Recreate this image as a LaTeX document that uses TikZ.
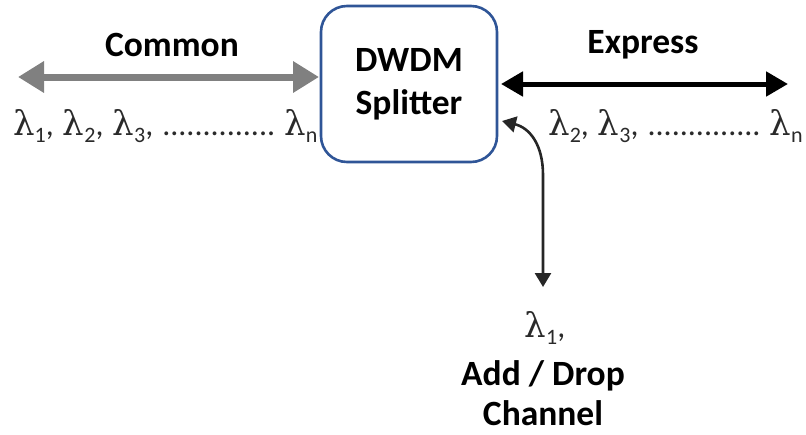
\documentclass[tikz,border=0pt]{standalone}
\usepackage{fontspec}
\setmainfont{Carlito}
\newfontfamily\lamfont{DejaVu Serif}
\usetikzlibrary{arrows.meta}
\definecolor{boxblue}{HTML}{2F5597}
\definecolor{arrgrey}{HTML}{808080}
\definecolor{lamgrey}{HTML}{2A2A2A}
\newcommand{\lm}[1]{{\lamfont\fontsize{34}{36}\selectfont λ}\raisebox{-0.22em}{\fontsize{22}{22}\selectfont #1}}
\newcommand{\dotrow}{{\fontsize{32}{34}\selectfont..............}}
\newcommand{\gp}{\hspace{9pt}}
\tikzset{
  lbl/.style={font=\fontsize{35.5}{40}\selectfont\bfseries, inner sep=0pt},
  lam/.style={font=\fontsize{32}{36}\selectfont, text=lamgrey, inner sep=0pt},
  splitter/.style={draw=boxblue, line width=2.6pt, rounded corners=26pt, minimum width=176pt, minimum height=156pt, align=center, font=\fontsize{35.5}{43}\selectfont\bfseries},
  greyarrow/.style={draw=arrgrey, line width=7pt, {Triangle[length=26pt,width=30pt]}-{Triangle[length=26pt,width=30pt]}},
  blackarrow/.style={draw=black, line width=5pt, {Triangle[length=22pt,width=24pt]}-{Triangle[length=22pt,width=24pt]}},
  thinarrow/.style={draw=black!85, line width=2.6pt, {Triangle[length=14pt,width=16pt]}-{Triangle[length=14pt,width=16pt]}}
}
\begin{document}
\begin{tikzpicture}[x=1pt,y=-1pt]
\useasboundingbox (0,0) rectangle (806,434);
\node[splitter] (box) at (409,84) {DWDM\\Splitter};
\coordinate (cl) at (18,77);
\coordinate (cr) at (319,77);
\draw[greyarrow] (cl) -- (cr);
\node[lbl] (common) at (172,45) {Common};
\node[lam, anchor=west] (lamL) at (13,126) {\lm{1},\gp\lm{2},\gp\lm{3},\gp\dotrow\gp\lm{n}};
\coordinate (el) at (501,84);
\coordinate (er) at (788,84);
\draw[blackarrow] (el) -- (er);
\node[lbl] (express) at (643,45) {Express};
\node[lam, anchor=east] (lamR) at (803,126) {\lm{2},\gp\lm{3},\gp\dotrow\gp\lm{n}};
\coordinate (ain) at (502,121);
\coordinate (abend) at (543,175);
\coordinate (aout) at (543,287);
\draw[thinarrow] (ain) .. controls (530,128) and (543,145) .. (abend) -- (aout);
\node[lam] (lam1) at (545,328) {\lm{1},};
\node[lbl, align=center, font=\fontsize{35.5}{40}\selectfont\bfseries] (adddrop) at (543,393) {Add / Drop\\Channel};
\end{tikzpicture}
\end{document}
